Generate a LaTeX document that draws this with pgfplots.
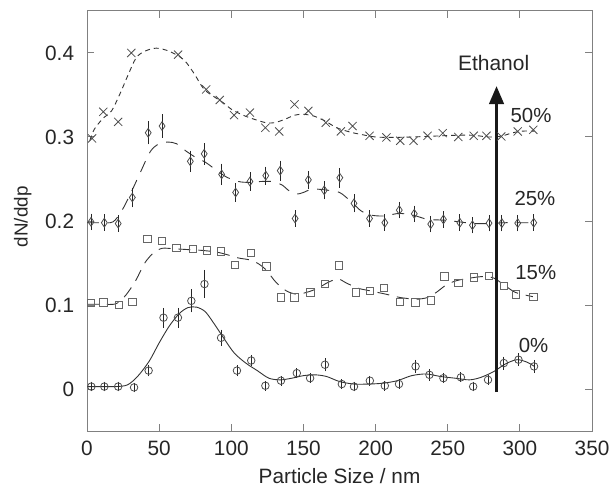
\documentclass[border=0pt]{standalone}
\usepackage{pgfplots}
\pgfplotsset{compat=1.18}
\usepackage{pgfplotstable}
\usepackage{fontspec}
\setmainfont{Liberation Sans}
\usetikzlibrary{arrows.meta}

% measured points: x  y  err
\pgfplotstableread{
x y e
3 0.003 0.002
12 0.003 0.002
21.6 0.003 0.002
32.6 0.002 0.002
42.7 0.022 0.003
53 0.085 0.008
63 0.085 0.008
72.3 0.105 0.010
81.4 0.125 0.013
92.9 0.061 0.006
103.9 0.022 0.003
113.8 0.034 0.003
123.6 0.004 0.002
134.4 0.010 0.002
145.4 0.019 0.002
154.6 0.013 0.002
164.9 0.029 0.004
176.6 0.006 0.002
185 0.003 0.002
196 0.010 0.002
206.4 0.004 0.002
216.2 0.006 0.002
227.7 0.027 0.004
237.3 0.017 0.003
247 0.013 0.002
259.1 0.014 0.002
267.6 0.003 0.002
277.9 0.011 0.002
288.9 0.031 0.004
299 0.035 0.004
309.8 0.027 0.004
}\zero

\pgfplotstableread{
x y
2.8 0.1027
11.3 0.103
22.3 0.100
31.4 0.104
41.8 0.179
52 0.176
62 0.168
73.2 0.167
83.3 0.165
92.9 0.164
102.5 0.148
113.8 0.162
124.3 0.146
134.2 0.109
143.8 0.109
154.8 0.115
164.9 0.125
174.8 0.147
186.2 0.115
196.1 0.117
205.7 0.120
216.7 0.104
227.7 0.103
238.2 0.1055
247.7 0.134
257.5 0.126
268.3 0.133
278.6 0.135
288.9 0.1224
297.4 0.1125
309.3 0.110
}\fifteen

\pgfplotstableread{
x y e
2.8 0.199 0.006
12 0.198 0.006
21.6 0.197 0.006
31.4 0.228 0.008
42.4 0.305 0.010
52 0.313 0.010
71.6 0.271 0.009
81.2 0.280 0.009
93.3 0.2555 0.009
103 0.234 0.007
112.9 0.247 0.007
123.9 0.254 0.007
133.9 0.260 0.008
144.2 0.203 0.006
153.4 0.249 0.007
164.4 0.2365 0.007
175.2 0.2515 0.008
185 0.221 0.007
195.8 0.203 0.006
206.4 0.198 0.006
216.4 0.213 0.006
226.8 0.2086 0.006
238.2 0.1963 0.006
247 0.2019 0.006
258.4 0.198 0.006
267.1 0.195 0.006
278.6 0.1975 0.006
287.5 0.1975 0.006
298.5 0.1975 0.006
309.6 0.198 0.006
}\twentyfive

\pgfplotstableread{
x y
3.5 0.2983
11.3 0.330
21.6 0.318
30.7 0.400
63.1 0.398
82.6 0.3566
92 0.344
101.9 0.326
112.9 0.329
123.6 0.311
133.2 0.3066
143.8 0.3388
153.4 0.331
165.5 0.317
175.9 0.3066
184 0.313
195.8 0.3014
207.5 0.2995
217.1 0.2955
226.3 0.2955
236 0.3014
246.5 0.3046
257.3 0.300
268 0.3014
276.8 0.3014
287.1 0.3006
298.5 0.3066
309.3 0.3085
}\fifty

\begin{document}
\begin{tikzpicture}
\begin{axis}[
  name=ax,
  width=254.2bp, height=211.5bp, scale only axis,
  xmin=0, xmax=350, ymin=-0.05, ymax=0.45,
  xtick={0,50,100,150,200,250,300,350},
  ytick={0,0.1,0.2,0.3,0.4},
  tick align=inside, major tick length=3.5bp,
  axis line style={black!50, line width=0.5bp},
  tick style={black!50, line width=0.5bp},
  /pgf/number format/assume math mode=true,
  tick label style={font=\fontsize{10.5}{12}\selectfont, text=black!85},
  yticklabel style={xshift=-3bp},
  xticklabel style={yshift=-1.5bp},
  xlabel={Particle Size / nm},
  ylabel={dN/ddp},
  xlabel style={font=\fontsize{10.5}{12}\selectfont, text=black!85,
    at={(rel axis cs:0.5,-0.1253)}, anchor=base},
  ylabel style={font=\fontsize{9.5}{11}\selectfont, text=black!85,
    at={(rel axis cs:-0.127,0.51)}, anchor=center},
  clip=false,
  error bars/error bar style={black!85, line width=0.4bp},
  error bars/error mark options={mark size=1.6bp, line width=0.4bp, black!85},
]

% fitted curves
\addplot[black!80, line width=0.45bp, smooth, tension=0.5] coordinates {
(0,0.003)(10,0.003)(20,0.003)(28,0.005)(35,0.015)(43,0.033)(50,0.055)(57,0.075)
(64,0.09)(70,0.097)(76,0.0975)(82,0.092)(88,0.078)(95,0.06)(102,0.043)(110,0.031)
(118,0.022)(126,0.013)(134,0.011)(142,0.013)(150,0.016)(158,0.017)(166,0.015)
(175,0.009)(185,0.006)(195,0.006)(205,0.007)(215,0.010)(225,0.016)(235,0.018)
(245,0.015)(255,0.013)(265,0.011)(273,0.014)(282,0.021)(290,0.030)(298,0.035)
(305,0.032)(310,0.027)};

\addplot[black!80, line width=0.45bp, smooth, tension=0.5, dash pattern=on 6bp off 4bp] coordinates {
(0,0.101)(10,0.101)(20,0.1015)(27,0.112)(34,0.13)(40,0.15)(46,0.162)(52,0.1675)
(60,0.167)(70,0.166)(80,0.165)(90,0.163)(97,0.160)(105,0.156)(112,0.154)(118,0.150)
(124,0.142)(131,0.127)(138,0.117)(145,0.113)(152,0.115)(160,0.12)(167,0.127)
(174,0.131)(180,0.126)(188,0.120)(196,0.117)(207,0.113)(217,0.109)(228,0.107)
(236,0.109)(242,0.115)(249,0.124)(256,0.129)(265,0.132)(275,0.134)(282,0.132)
(289,0.124)(297,0.115)(309,0.110)};

\addplot[black!80, line width=0.45bp, smooth, tension=0.5, dash pattern=on 6bp off 4.5bp] coordinates {
(0,0.198)(10,0.198)(18,0.199)(24,0.212)(30,0.232)(37,0.258)(44,0.283)(50,0.292)
(56,0.294)(62,0.292)(68,0.284)(75,0.276)(82,0.27)(90,0.26)(97,0.252)(105,0.247)
(112,0.246)(120,0.247)(128,0.247)(135,0.243)(140,0.236)(145,0.232)(150,0.234)
(156,0.238)(165,0.237)(175,0.234)(183,0.223)(190,0.212)(197,0.207)(206,0.206)
(216,0.209)(226,0.207)(236,0.202)(248,0.201)(258,0.199)(268,0.197)(278,0.197)
(290,0.198)(300,0.198)(310,0.198)};

\addplot[black!80, line width=0.45bp, smooth, tension=0.5, dash pattern=on 2.5bp off 2bp] coordinates {
(2,0.296)(5,0.309)(11,0.322)(17,0.331)(23,0.352)(28,0.372)(34,0.394)(40,0.402)
(48,0.4057)(57,0.402)(67,0.392)(74,0.376)(81,0.357)(88,0.348)(95,0.340)
(100,0.333)(108,0.326)(116,0.321)(124,0.317)(130,0.317)(137,0.321)(144,0.326)
(150,0.327)(157,0.325)(165,0.319)(173,0.311)(182,0.306)(190,0.303)(200,0.300)
(212,0.2995)(225,0.300)(240,0.301)(255,0.302)(268,0.302)(278,0.300)(287,0.301)
(295,0.305)(302,0.307)(310,0.307)};

% data points
\addplot[only marks, mark=o, mark size=1.9bp, black!70, line width=0.4bp,
  error bars/.cd, y dir=both, y explicit]
  table[x=x, y=y, y error=e] {\zero};
\addplot[only marks, mark=square, mark size=1.85bp, black!60, line width=0.45bp]
  table[x=x, y=y] {\fifteen};
\addplot[only marks, mark=diamond, mark size=2.2bp, black!70, line width=0.4bp,
  mark options={xscale=0.9},
  error bars/.cd, y dir=both, y explicit]
  table[x=x, y=y, y error=e] {\twentyfive};
\addplot[only marks, mark=x, mark size=2.9bp, black!70, line width=0.4bp]
  table[x=x, y=y] {\fifty};

% arrow and labels
\draw[black!90, line width=1.35bp, -{Triangle[length=9bp, width=7.3bp]}]
  (axis cs:283.8,-0.0035) -- (axis cs:283.8,0.3605);
\node[font=\fontsize{10.6}{12}\selectfont, text=black!85] at (axis cs:281.8,0.388) {Ethanol};
\node[font=\fontsize{10.3}{12}\selectfont, text=black!85] at (axis cs:307.7,0.325) {50\%};
\node[font=\fontsize{10.3}{12}\selectfont, text=black!85] at (axis cs:310.4,0.227) {25\%};
\node[font=\fontsize{10.3}{12}\selectfont, text=black!85] at (axis cs:311,0.139) {15\%};
\node[font=\fontsize{10.3}{12}\selectfont, text=black!85] at (axis cs:309.5,0.052) {0\%};
\end{axis}
\path (ax.south west) ++(-43.8bp,-28bp);
\path (ax.north east) ++(10bp,5.5bp);
\end{tikzpicture}
\end{document}
